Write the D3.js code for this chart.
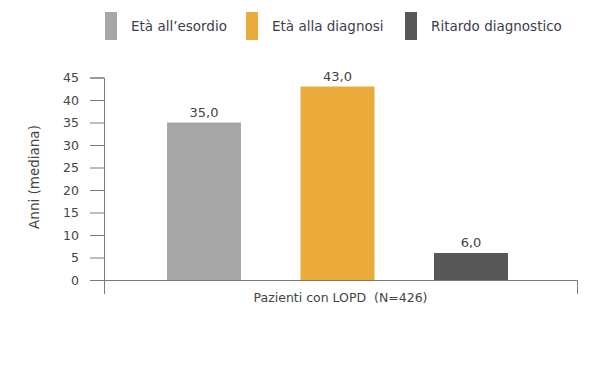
<!DOCTYPE html>
<html>
<head>
<meta charset="utf-8">
<script src="https://cdn.jsdelivr.net/npm/d3@7"></script>
<style>
  body { margin: 0; background: #fff; }
  text { font-family: "DejaVu Sans", sans-serif; }
</style>
</head>
<body>
<div id="chart"></div>
<script>
const series = ['Età all\u2019esordio', 'Età alla diagnosi', 'Ritardo diagnostico'];
const values = [35.0, 43.0, 6.0];
const colors = ['#a7a7a8', '#ebab3b', '#575758'];
const category = 'Pazienti con LOPD  (N=426)';
const yTicks = [0, 5, 10, 15, 20, 25, 30, 35, 40, 45];

const width = 600, height = 365;
const svg = d3.select('#chart').append('svg')
  .attr('width', width)
  .attr('height', height);

const y = d3.scaleLinear().domain([0, 45]).range([280, 77.5]);
const xCat = d3.scaleBand().domain([category]).range([104, 577]);
const xBar = d3.scalePoint().domain(series).range([204, 471]);
const barWidth = 74;

// y axis
const yAxis = svg.append('g')
  .attr('transform', 'translate(104,0)')
  .call(d3.axisLeft(y).tickValues(yTicks).tickSize(14).tickPadding(11).tickFormat(d3.format('d')));
yAxis.select('.domain').attr('stroke', '#7a7a7a');
yAxis.selectAll('.tick line').attr('stroke', '#7a7a7a');
yAxis.selectAll('.tick text').attr('fill', '#444').style('font-size', '12.5px');

// x axis
const xAxis = svg.append('g')
  .attr('transform', 'translate(0,280)')
  .call(d3.axisBottom(xCat).tickSizeInner(0).tickSizeOuter(14).tickPadding(13));
xAxis.select('.domain').attr('stroke', '#7a7a7a');
xAxis.selectAll('.tick text')
  .attr('fill', '#444')
  .style('font-size', '12.5px')
  .style('white-space', 'pre');

// bars
svg.selectAll('.bar')
  .data(series)
  .enter()
  .append('rect')
  .attr('class', 'bar')
  .attr('x', d => xBar(d) - barWidth / 2)
  .attr('y', (d, i) => y(values[i]))
  .attr('width', barWidth)
  .attr('height', (d, i) => y(0) - y(values[i]))
  .attr('fill', (d, i) => colors[i]);

// value labels
svg.selectAll('.val')
  .data(series)
  .enter()
  .append('text')
  .attr('class', 'val')
  .attr('x', d => xBar(d))
  .attr('y', (d, i) => y(values[i]) - 6)
  .attr('text-anchor', 'middle')
  .attr('fill', '#444')
  .style('font-size', '13px')
  .text((d, i) => d3.format('.1f')(values[i]).replace('.', ','));

// y axis title
svg.append('text')
  .attr('transform', 'translate(39,177) rotate(-90)')
  .attr('text-anchor', 'middle')
  .attr('fill', '#444')
  .style('font-size', '13.5px')
  .text('Anni (mediana)');

// legend
const legendX = [105, 246, 405];
const legend = svg.selectAll('.legend')
  .data(series)
  .enter()
  .append('g')
  .attr('class', 'legend')
  .attr('transform', (d, i) => `translate(${legendX[i]},12)`);
legend.append('rect')
  .attr('width', 12)
  .attr('height', 28)
  .attr('fill', (d, i) => colors[i]);
legend.append('text')
  .attr('x', 26)
  .attr('y', 19)
  .attr('fill', '#3d3d4d')
  .style('font-size', '13.5px')
  .text(d => d);
</script>
</body>
</html>
